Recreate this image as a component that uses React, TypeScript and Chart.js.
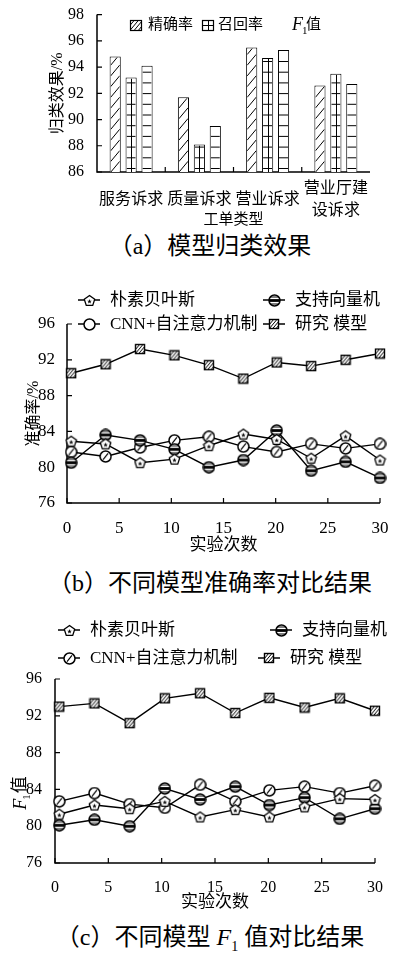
import React, { useEffect, useRef } from "react";
import { Chart, registerables } from "chart.js";

Chart.register(...registerables);

const FONT = '"Liberation Serif", "Noto Sans CJK SC", serif';

// ---------- (a) 模型归类效果 ----------
const workOrderTypes: (string | string[])[] = ["服务诉求", "质量诉求", "营业诉求", ["营业厅建", "设诉求"]];
const precision = [94.8, 91.7, 95.5, 92.6];
const recall = [93.2, 88.1, 94.7, 93.5];
const f1Score = [94.1, 89.5, 95.3, 92.7];
const seriesNamesA = ["精确率", "召回率", "F1值"];
const yRangeA = { min: 86, max: 98, step: 2 };

// ---------- (b)/(c) shared ----------
const runs = [0.4, 3.7, 7, 10.3, 13.6, 16.9, 20.1, 23.4, 26.7, 30];
const modelNames = ["朴素贝叶斯", "支持向量机", "CNN+自注意力机制", "研究 模型"];

// (b) 准确率
const accNB = [82.9, 82.6, 80.5, 80.9, 82.4, 83.7, 83.1, 81.0, 83.5, 80.8];
const accSVM = [80.5, 83.6, 83.0, 82.0, 80.0, 80.8, 84.1, 79.6, 80.6, 78.8];
const accCNN = [81.7, 81.2, 82.2, 83.0, 83.4, 82.3, 81.7, 82.6, 82.1, 82.6];
const accOurs = [90.5, 91.5, 93.2, 92.5, 91.4, 89.9, 91.7, 91.3, 92.0, 92.7];

// (c) F1 值
const f1NB = [81.3, 82.3, 81.9, 82.7, 81.0, 81.8, 81.0, 82.1, 83.0, 82.9];
const f1SVM = [80.1, 80.7, 80.0, 84.1, 82.9, 84.3, 82.3, 83.1, 80.8, 81.9];
const f1CNN = [82.7, 83.6, 82.4, 82.0, 84.5, 82.7, 83.9, 84.3, 83.6, 84.4];
const f1Ours = [93.0, 93.35, 91.2, 93.9, 94.45, 92.3, 93.95, 92.9, 93.9, 92.55];

const xRange = { min: 0, max: 30, step: 5 };
const yRangeBC = { min: 76, max: 96, step: 4 };

// ---------- drawing helpers ----------
function drawHatch(ctx: CanvasRenderingContext2D, kind: string, l: number, t: number, r: number, b: number, gap = 10.7) {
  ctx.save();
  ctx.beginPath();
  ctx.rect(l, t, r - l, b - t);
  ctx.clip();
  ctx.beginPath();
  ctx.strokeStyle = "#000";
  ctx.lineWidth = 1;
  const w = r - l;
  if (kind === "diag") {
    for (let yy = b + w * 1.2; yy > t - 2; yy -= gap) {
      ctx.moveTo(l, yy);
      ctx.lineTo(r, yy - w * 1.2);
    }
  } else {
    for (let yy = b - 3.5; yy > t + 1; yy -= gap) {
      ctx.moveTo(l, yy);
      ctx.lineTo(r, yy);
    }
    if (kind === "grid") {
      const cx = Math.round((l + r) / 2) + 0.5;
      ctx.moveTo(cx, t);
      ctx.lineTo(cx, b);
    }
  }
  ctx.stroke();
  ctx.restore();
}

function mk(size: number, draw: (c: CanvasRenderingContext2D, s: number) => void) {
  const cv = document.createElement("canvas");
  cv.width = size;
  cv.height = size;
  const c = cv.getContext("2d")!;
  draw(c, size);
  return cv;
}

function markerPentagon(size = 13) {
  return mk(size, (c, s) => {
    const cx = s / 2, cy = s / 2 + 0.5, r = s / 2 - 1;
    c.beginPath();
    for (let i = 0; i < 5; i++) {
      const a = -Math.PI / 2 + (i * 2 * Math.PI) / 5;
      const px = cx + r * Math.cos(a), py = cy + r * Math.sin(a);
      if (i === 0) c.moveTo(px, py); else c.lineTo(px, py);
    }
    c.closePath();
    c.fillStyle = "#fff";
    c.fill();
    c.lineWidth = 1.3;
    c.strokeStyle = "#000";
    c.stroke();
    c.beginPath();
    for (let i = 0; i < 10; i++) {
      const a = -Math.PI / 2 + (i * Math.PI) / 5;
      const rr = i % 2 === 0 ? 2.4 : 1.0;
      const px = cx + rr * Math.cos(a), py = cy + 0.5 + rr * Math.sin(a);
      if (i === 0) c.moveTo(px, py); else c.lineTo(px, py);
    }
    c.closePath();
    c.fillStyle = "#000";
    c.fill();
  });
}

function markerSVM(size = 13) {
  return mk(size, (c, s) => {
    const cx = s / 2, cy = s / 2, r = s / 2 - 1;
    c.beginPath();
    c.arc(cx, cy, r, 0, Math.PI * 2);
    c.fillStyle = "#fff";
    c.fill();
    c.save();
    c.clip();
    c.fillStyle = "#000";
    c.fillRect(0, cy - 1.4, s, 2.8);
    c.fillRect(0, cy - 4, s, 1);
    c.fillRect(0, cy + 3, s, 1);
    c.restore();
    c.beginPath();
    c.arc(cx, cy, r, 0, Math.PI * 2);
    c.lineWidth = 1.5;
    c.strokeStyle = "#000";
    c.stroke();
  });
}

function markerCNN(size = 13, slash = true) {
  return mk(size, (c, s) => {
    const cx = s / 2, cy = s / 2, r = s / 2 - 1;
    c.beginPath();
    c.arc(cx, cy, r, 0, Math.PI * 2);
    c.fillStyle = "#fff";
    c.fill();
    c.lineWidth = 1.5;
    c.strokeStyle = "#000";
    c.stroke();
    if (slash) {
      c.beginPath();
      c.lineWidth = 1.2;
      c.moveTo(cx - r * 0.45, cy + r * 0.55);
      c.lineTo(cx + r * 0.45, cy - r * 0.55);
      c.stroke();
    }
  });
}

function markerSquare(size = 13) {
  return mk(size, (c, s) => {
    const l = 1, t = 1, w = s - 2;
    c.fillStyle = "#fff";
    c.fillRect(l, t, w, w);
    drawHatch(c, "diag", l, t, l + w, t + w, 4);
    c.lineWidth = 1.4;
    c.strokeStyle = "#000";
    c.strokeRect(l + 0.5, t + 0.5, w - 1, w - 1);
  });
}

// inward axes (lines + ticks)
function axesPlugin(between: boolean) {
  return {
    id: "inwardAxes",
    beforeDatasetsDraw(chart: any) {
      const { ctx, chartArea } = chart;
      const { left, right, top, bottom } = chartArea;
      const xs = chart.scales.x, ys = chart.scales.y;
      ctx.save();
      ctx.strokeStyle = "#000";
      ctx.lineWidth = 1.5;
      ctx.beginPath();
      ctx.moveTo(left, top);
      ctx.lineTo(left, bottom);
      ctx.lineTo(right, bottom);
      ctx.stroke();
      ctx.lineWidth = 1.2;
      ctx.beginPath();
      ys.ticks.forEach((_: any, i: number) => {
        const p = ys.getPixelForTick(i);
        ctx.moveTo(left, p);
        ctx.lineTo(left + 5, p);
      });
      if (between) {
        for (let i = 0; i < xs.ticks.length - 1; i++) {
          const p = (xs.getPixelForTick(i) + xs.getPixelForTick(i + 1)) / 2;
          ctx.moveTo(p, bottom);
          ctx.lineTo(p, bottom - 5);
        }
      } else {
        xs.ticks.forEach((_: any, i: number) => {
          const p = xs.getPixelForTick(i);
          ctx.moveTo(p, bottom);
          ctx.lineTo(p, bottom - 5);
        });
      }
      ctx.stroke();
      ctx.restore();
    },
  };
}

const hatchKinds = ["diag", "grid", "hline"];

const barHatchPlugin = {
  id: "barHatch",
  afterDatasetsDraw(chart: any) {
    const ctx = chart.ctx;
    const area = chart.chartArea;
    chart.data.datasets.forEach((_: any, di: number) => {
      const meta = chart.getDatasetMeta(di);
      meta.data.forEach((el: any) => {
        const { x, y, base, width } = el.getProps(["x", "y", "base", "width"], true);
        const l = x - width / 2 + 1, r = x + width / 2 - 1;
        const t = Math.max(Math.min(y, base), area.top) + 1;
        const b = Math.min(Math.max(y, base), area.bottom);
        drawHatch(ctx, hatchKinds[di], l, t, r, b);
      });
    });
  },
};

const legendAPlugin = {
  id: "legendA",
  afterDraw(chart: any) {
    const ctx: CanvasRenderingContext2D = chart.ctx;
    ctx.save();
    const boxes = [
      { x: 130, kind: "diag" },
      { x: 202, kind: "cross" },
    ];
    boxes.forEach((bx) => {
      ctx.fillStyle = "#fff";
      ctx.fillRect(bx.x, 20, 12, 11);
      if (bx.kind === "diag") drawHatch(ctx, "diag", bx.x, 20, bx.x + 12, 31, 5);
      else {
        ctx.beginPath();
        ctx.lineWidth = 1;
        ctx.strokeStyle = "#000";
        ctx.moveTo(bx.x + 6.5, 20);
        ctx.lineTo(bx.x + 6.5, 31);
        ctx.moveTo(bx.x, 25.5);
        ctx.lineTo(bx.x + 12, 25.5);
        ctx.stroke();
      }
      ctx.lineWidth = 1.2;
      ctx.strokeStyle = "#000";
      ctx.strokeRect(bx.x + 0.5, 20.5, 11, 10);
    });
    ctx.fillStyle = "#000";
    ctx.textBaseline = "middle";
    ctx.textAlign = "left";
    ctx.font = `15px ${FONT}`;
    ctx.fillText(seriesNamesA[0], 148, 25.5);
    ctx.fillText(seriesNamesA[1], 218, 25.5);
    ctx.font = `italic 18px "Liberation Serif"`;
    ctx.fillText("F", 292, 25);
    const wF = ctx.measureText("F").width;
    ctx.font = `11px "Liberation Serif"`;
    ctx.fillText("1", 292 + wF - 1, 31);
    ctx.font = `15px ${FONT}`;
    ctx.fillText("值", 306, 25.5);
    ctx.restore();
  },
};

type LegendItem = { marker: HTMLCanvasElement; text: string; x: number; y: number };

function lineLegendPlugin(items: LegendItem[], size: number) {
  return {
    id: "lineLegend",
    afterDraw(chart: any) {
      const ctx: CanvasRenderingContext2D = chart.ctx;
      ctx.save();
      items.forEach((it) => {
        ctx.beginPath();
        ctx.strokeStyle = "#000";
        ctx.lineWidth = 1.5;
        ctx.moveTo(it.x, it.y);
        ctx.lineTo(it.x + 22, it.y);
        ctx.stroke();
        const m = it.marker;
        ctx.drawImage(m, Math.round(it.x + 11 - m.width / 2), Math.round(it.y - m.height / 2));
        ctx.fillStyle = "#000";
        ctx.font = `${size}px ${FONT}`;
        ctx.textBaseline = "middle";
        ctx.textAlign = "left";
        ctx.fillText(it.text, it.x + 32, it.y + 0.5);
      });
      ctx.restore();
    },
  };
}

const f1TitlePlugin = {
  id: "f1Title",
  afterDraw(chart: any) {
    const ctx: CanvasRenderingContext2D = chart.ctx;
    ctx.save();
    ctx.translate(21, 185);
    ctx.rotate(-Math.PI / 2);
    ctx.fillStyle = "#000";
    ctx.textBaseline = "middle";
    ctx.textAlign = "left";
    ctx.font = `italic 18px "Liberation Serif"`;
    const wF = ctx.measureText("F").width;
    ctx.font = `11px "Liberation Serif"`;
    const w1 = ctx.measureText("1").width;
    ctx.font = `17px ${FONT}`;
    const wZ = ctx.measureText("值").width;
    let x = -(wF + w1 + wZ) / 2;
    ctx.font = `italic 18px "Liberation Serif"`;
    ctx.fillText("F", x, 0);
    ctx.font = `11px "Liberation Serif"`;
    ctx.fillText("1", x + wF - 1, 6);
    ctx.font = `17px ${FONT}`;
    ctx.fillText("值", x + wF + w1, 0);
    ctx.restore();
  },
};

function lineDataset(label: string, values: number[], marker: HTMLCanvasElement) {
  return {
    label,
    data: runs.map((r, i) => ({ x: r, y: values[i] })),
    borderColor: "#000",
    borderWidth: 1.4,
    backgroundColor: "#fff",
    pointStyle: marker as any,
    pointRadius: 6,
    pointHoverRadius: 6,
    tension: 0,
    fill: false,
    clip: false as any,
  };
}

function buildA(canvas: HTMLCanvasElement) {
  const common = { backgroundColor: "#fff", borderColor: "#000", borderWidth: 1, categoryPercentage: 0.7, barPercentage: 0.7 };
  return new Chart(canvas, {
    type: "bar",
    data: {
      labels: workOrderTypes as any,
      datasets: [
        { label: seriesNamesA[0], data: precision, ...common },
        { label: seriesNamesA[1], data: recall, ...common },
        { label: seriesNamesA[2], data: f1Score, ...common },
      ],
    },
    options: {
      responsive: false,
      animation: false,
      devicePixelRatio: 1,
      layout: { padding: { top: 13, right: 36, left: 0, bottom: 0 } },
      plugins: { legend: { display: false }, tooltip: { enabled: false } },
      scales: {
        x: {
          grid: { display: false },
          border: { display: false },
          ticks: {
            color: "#000",
            font: { family: FONT, size: 16, lineHeight: 1.375 },
            padding: 9,
            crossAlign: "center",
            autoSkip: false,
            maxRotation: 0,
            minRotation: 0,
          },
          title: { display: true, text: "工单类型", color: "#000", font: { family: FONT, size: 15 }, padding: { top: 0, bottom: 1 } },
          afterFit: (s: any) => { s.height = 58; },
        },
        y: {
          min: yRangeA.min,
          max: yRangeA.max,
          grid: { display: false },
          border: { display: false },
          ticks: { stepSize: yRangeA.step, color: "#000", font: { family: FONT, size: 16 }, padding: 5 },
          title: { display: true, text: "归类效果/%", color: "#000", font: { family: FONT, size: 16 }, padding: { top: 48, bottom: 0 } },
          afterFit: (s: any) => { s.width = 97; },
        },
      },
    } as any,
    plugins: [axesPlugin(true), barHatchPlugin, legendAPlugin],
  });
}

function buildLineChart(
  canvas: HTMLCanvasElement,
  series: number[][],
  cfg: {
    padTop: number; padRight: number; yWidth: number; xHeight: number;
    tickSize: number; xPad: number; yPad: number; xTitlePad: number;
    yTitle?: string; yTitlePad?: number; legend: any; extra: any[];
  },
  markers: HTMLCanvasElement[]
) {
  return new Chart(canvas, {
    type: "line",
    data: {
      datasets: series.map((vals, i) => lineDataset(modelNames[i], vals, markers[i])),
    },
    options: {
      responsive: false,
      animation: false,
      devicePixelRatio: 1,
      layout: { padding: { top: cfg.padTop, right: cfg.padRight, left: 0, bottom: 0 } },
      plugins: { legend: { display: false }, tooltip: { enabled: false } },
      scales: {
        x: {
          type: "linear",
          min: xRange.min,
          max: xRange.max,
          grid: { display: false },
          border: { display: false },
          ticks: { stepSize: xRange.step, color: "#000", font: { family: FONT, size: cfg.tickSize }, padding: cfg.xPad, maxRotation: 0 },
          title: { display: true, text: "实验次数", color: "#000", font: { family: FONT, size: 17 }, padding: { top: 0, bottom: cfg.xTitlePad } },
          afterFit: (s: any) => { s.height = cfg.xHeight; },
        },
        y: {
          min: yRangeBC.min,
          max: yRangeBC.max,
          grid: { display: false },
          border: { display: false },
          ticks: { stepSize: yRangeBC.step, color: "#000", font: { family: FONT, size: cfg.tickSize }, padding: cfg.yPad },
          title: cfg.yTitle
            ? { display: true, text: cfg.yTitle, color: "#000", font: { family: FONT, size: 16 }, padding: { top: cfg.yTitlePad, bottom: 0 } }
            : { display: false },
          afterFit: (s: any) => { s.width = cfg.yWidth; },
        },
      },
    } as any,
    plugins: [axesPlugin(false), cfg.legend, ...cfg.extra],
  });
}

function buildB(canvas: HTMLCanvasElement) {
  const markers = [markerPentagon(), markerSVM(), markerCNN(13, true), markerSquare(12)];
  const legend = lineLegendPlugin(
    [
      { marker: markerPentagon(), text: modelNames[0], x: 78, y: 15 },
      { marker: markerSVM(), text: modelNames[1], x: 263, y: 15 },
      { marker: markerCNN(13, false), text: modelNames[2], x: 78, y: 39 },
      { marker: markerSquare(12), text: modelNames[3], x: 263, y: 39 },
    ],
    17
  );
  return buildLineChart(
    canvas,
    [accNB, accSVM, accCNN, accOurs],
    {
      padTop: 39, padRight: 26, yWidth: 67, xHeight: 57, tickSize: 17,
      xPad: 7, yPad: 4, xTitlePad: 3.8, yTitle: "准确率/%", yTitlePad: 24, legend, extra: [],
    },
    markers
  );
}

function buildC(canvas: HTMLCanvasElement) {
  const markers = [markerPentagon(), markerSVM(), markerCNN(13, true), markerSquare(12)];
  const legend = lineLegendPlugin(
    [
      { marker: markerPentagon(), text: modelNames[0], x: 58, y: 22 },
      { marker: markerSVM(), text: modelNames[1], x: 270, y: 22 },
      { marker: markerCNN(13, true), text: modelNames[2], x: 58, y: 50 },
      { marker: markerSquare(12), text: modelNames[3], x: 258, y: 50 },
    ],
    17
  );
  return buildLineChart(
    canvas,
    [f1NB, f1SVM, f1CNN, f1Ours],
    {
      padTop: 71, padRight: 31, yWidth: 55, xHeight: 55, tickSize: 16,
      xPad: 7.4, yPad: 5, xTitlePad: 4.8, legend, extra: [f1TitlePlugin],
    },
    markers
  );
}

function ChartCanvas({ top, height, build }: { top: number; height: number; build: (c: HTMLCanvasElement) => Chart }) {
  const ref = useRef<HTMLCanvasElement>(null);
  useEffect(() => {
    const chart = build(ref.current!);
    return () => chart.destroy();
  }, [build]);
  return (
    <canvas
      ref={ref}
      width={406}
      height={height}
      style={{ position: "absolute", left: 0, top, width: 406, height, display: "block" }}
    />
  );
}

const captionStyle = (top: number): React.CSSProperties => ({
  position: "absolute",
  left: 10,
  width: 400,
  top,
  height: 26,
  lineHeight: "26px",
  fontSize: 24,
  textAlign: "center",
  fontFamily: FONT,
  color: "#000",
  whiteSpace: "nowrap",
});

export default function App() {
  return (
    <div style={{ position: "absolute", left: 0, top: 0, width: 406, height: 956, background: "#fff", overflow: "hidden" }}>
      <ChartCanvas top={0} height={230} build={buildA} />
      <div style={captionStyle(233)}>（a）模型归类效果</div>
      <ChartCanvas top={285} height={275} build={buildB} />
      <div style={captionStyle(570)}>（b）不同模型准确率对比结果</div>
      <ChartCanvas top={608} height={310} build={buildC} />
      <div style={captionStyle(924)}>
        （c）不同模型 <i style={{ fontFamily: '"Liberation Serif", serif' }}>F</i>
        <span style={{ fontSize: 14, position: "relative", top: 6 }}>1</span> 值对比结果
      </div>
    </div>
  );
}
